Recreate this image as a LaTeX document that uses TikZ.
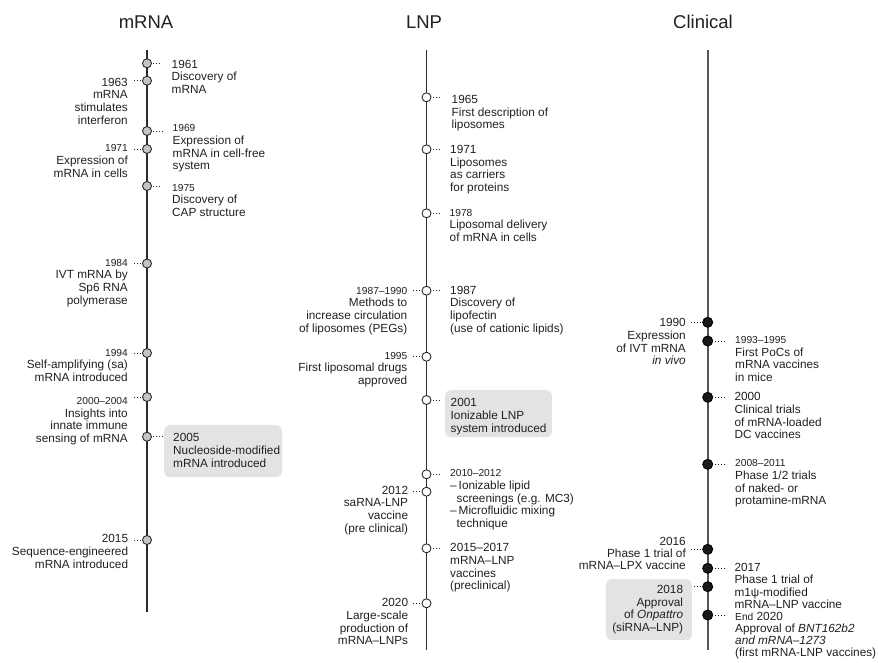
\documentclass[tikz,border=0pt]{standalone}
\usepackage{fontspec}
\setmainfont{Liberation Sans}
\usetikzlibrary{positioning, calc}
\definecolor{txtcol}{HTML}{231F20}
\definecolor{axiscol}{HTML}{2B2B2B}
\definecolor{clinaxis}{HTML}{555555}
\definecolor{mrnafill}{HTML}{C4C4C4}
\definecolor{boxfill}{HTML}{E3E3E3}
\newcommand{\smyr}[1]{{\fontsize{10.2}{12}\selectfont #1}}
% first line carries the baseline
\newcommand{\evlines}[1]{\begin{tabular}[t]{@{}l@{}}#1\end{tabular}}
\newcommand{\evlinesr}[1]{\begin{tabular}[t]{@{}r@{}}#1\end{tabular}}
\tikzset{
    every node/.style={font=\fontsize{11.8}{12.7}\selectfont, text=txtcol},
    tight/.style={font=\fontsize{11.8}{12.2}\selectfont},
    coltitle/.style={font=\fontsize{18.5}{20}\selectfont, anchor=base},
    axisline/.style={axiscol, line width=1.2pt},
    clinline/.style={clinaxis, line width=1.6pt},
    mrnadot/.style={
        circle, draw=axiscol, line width=0.9pt, fill=mrnafill,
        minimum size=9pt, inner sep=0pt,
    },
    lnpdot/.style={mrnadot, fill=white},
    clindot/.style={mrnadot, draw=black, fill=black!90, minimum size=10pt},
    evtR/.style={anchor=base west, inner sep=0pt},
    evtL/.style={anchor=base east, inner sep=0pt},
    hibox/.style={
        rectangle, rounded corners=5pt, fill=boxfill,
        anchor=north west, inner sep=0pt,
    },
    leadR/.style={
        txtcol, line width=0.9pt, dash pattern=on 0.9pt off 2.1pt,
        shorten <=1.5pt, shorten >=10pt,
    },
    leadL/.style={leadR, shorten >=5pt},
}

\begin{document}
\begin{tikzpicture}[x=1pt, y=-1pt]
\useasboundingbox (0,0) rectangle (878,662);

% ── Column titles ──────────────────────────────────────────────────
\node[coltitle] (tmrna) at (146,28) {mRNA};
\node[coltitle] (tlnp) at (424,28) {LNP};
\node[coltitle] (tclin) at (703,28) {Clinical};

% ── Axes ───────────────────────────────────────────────────────────
\coordinate (mtop) at (147,50);
\coordinate (mbot) at (147,612);
\coordinate (ltop) at (426.5,50);
\coordinate (lbot) at (426.5,650);
\coordinate (ctop) at (707.7,50);
\coordinate (cbot) at (707.7,650);
\draw[axisline] (mtop) -- (mbot);
\draw[axisline] (ltop) -- (lbot);
\draw[clinline] (ctop) -- (cbot);

% ── Highlight boxes ────────────────────────────────────────────────
\node[hibox, minimum width=117.7, minimum height=52] (b05) at (164,425) {};
\node[hibox, minimum width=106.7, minimum height=47] (b01) at (445,390) {};
\node[hibox, minimum width=85.7, minimum height=61] (b18) at (606,579) {};

% ── mRNA events ────────────────────────────────────────────────────
\node[mrnadot] (m61) at (147,63.3) {};
\node[mrnadot] (m63) at (147,80.7) {};
\node[mrnadot] (m69) at (147,131) {};
\node[mrnadot] (m71) at (147,149) {};
\node[mrnadot] (m75) at (147,186) {};
\node[mrnadot] (m84) at (147,263.5) {};
\node[mrnadot] (m94) at (147,353) {};
\node[mrnadot] (m00) at (147,397) {};
\node[mrnadot] (m05) at (147,436.7) {};
\node[mrnadot] (m15) at (147,540) {};

\node[evtR] (tm61) at (171.5,68) {\evlines{1961\\Discovery of\\mRNA}};
\node[evtL] (tm63) at (128,86) {\evlinesr{1963\\mRNA\\stimulates\\interferon}};
\node[evtR] (tm69) at (172.5,131.7) {\evlines{\smyr{1969}\\Expression of\\mRNA in cell-free\\system}};
\node[evtL] (tm71) at (128,151.7) {\evlinesr{\smyr{1971}\\Expression of\\mRNA in cells}};
\node[evtR] (tm75) at (172,191) {\evlines{\smyr{1975}\\Discovery of\\CAP structure}};
\node[evtL] (tm84) at (128,266) {\evlinesr{\smyr{1984}\\IVT mRNA by\\Sp6 RNA\\polymerase}};
\node[evtL] (tm94) at (128,356) {\evlinesr{\smyr{1994}\\Self-amplifying (sa)\\mRNA introduced}};
\node[evtL] (tm00) at (128,404.5) {\evlinesr{\smyr{2000--2004}\\Insights into\\innate immune\\sensing of mRNA}};
\node[evtR] (tm05) at (173,441.7) {\evlines{2005\\Nucleoside-modified\\mRNA introduced}};
\node[evtL] (tm15) at (128.3,542.7) {\evlinesr{2015\\Sequence-engineered\\mRNA introduced}};

\draw[leadR] (m61) -- (m61 -| tm61.west);
\draw[leadL] (m63) -- (m63 -| tm63.east);
\draw[leadR] (m69) -- (m69 -| tm69.west);
\draw[leadL] (m71) -- (m71 -| tm71.east);
\draw[leadR] (m75) -- (m75 -| tm75.west);
\draw[leadL] (m84) -- (m84 -| tm84.east);
\draw[leadL] (m94) -- (m94 -| tm94.east);
\draw[leadL] (m00) -- (m00 -| tm00.east);
\draw[leadR] (m05) -- (m05 -| tm05.west);
\draw[leadL] (m15) -- (m15 -| tm15.east);

% ── LNP events ─────────────────────────────────────────────────────
\node[lnpdot] (l65) at (426.5,97.3) {};
\node[lnpdot] (l71) at (426.5,149.3) {};
\node[lnpdot] (l78) at (426.5,213.3) {};
\node[lnpdot] (l87) at (426.5,290.7) {};
\node[lnpdot] (l95) at (426.5,356.7) {};
\node[lnpdot] (l01) at (426.5,400) {};
\node[lnpdot] (l10) at (426.5,474.3) {};
\node[lnpdot] (l12) at (426.5,491.7) {};
\node[lnpdot] (l15) at (426.5,548.3) {};
\node[lnpdot] (l20) at (426.5,603.3) {};

\node[evtR] (tl65) at (451.5,103.3) {\evlines{1965\\First description of\\liposomes}};
\node[evtR] (tl71) at (450,153.3) {\evlines{1971\\Liposomes\\as carriers\\for proteins}};
\node[evtR] (tl78) at (449.5,216) {\evlines{\smyr{1978}\\Liposomal delivery\\of mRNA in cells}};
\node[evtR] (tl87) at (450,294) {\evlines{1987\\Discovery of\\lipofectin\\(use of cationic lipids)}};
\node[evtL] (tl87b) at (407.5,294) {\evlinesr{\smyr{1987--1990}\\Methods to\\increase circulation\\of liposomes (PEGs)}};
\node[evtL] (tl95) at (407.5,359) {\evlinesr{\smyr{1995}\\First liposomal drugs\\approved}};
\node[evtR] (tl01) at (450.5,406.7) {\evlines{2001\\Ionizable LNP\\system introduced}};
\node[evtR] (tl10) at (450,476.7) {\evlines{\smyr{2010--2012}\\--\,Ionizable lipid\\\hspace*{6.5pt}screenings (e.g. MC3)\\--\,Microfluidic mixing\\\hspace*{6.5pt}technique}};
\node[evtL] (tl12) at (408.3,494) {\evlinesr{2012\\saRNA-LNP\\vaccine\\(pre clinical)}};
\node[evtR] (tl15) at (450,551.7) {\evlines{2015--2017\\mRNA--LNP\\vaccines\\(preclinical)}};
\node[evtL] (tl20) at (408.3,606.7) {\evlinesr{2020\\Large-scale\\production of\\mRNA--LNPs}};

\draw[leadR] (l65) -- (l65 -| tl65.west);
\draw[leadR] (l71) -- (l71 -| tl71.west);
\draw[leadR] (l78) -- (l78 -| tl78.west);
\draw[leadR] (l87) -- (l87 -| tl87.west);
\draw[leadL] (l87) -- (l87 -| tl87b.east);
\draw[leadL] (l95) -- (l95 -| tl95.east);
\draw[leadR] (l01) -- (l01 -| tl01.west);
\draw[leadR] (l10) -- (l10 -| tl10.west);
\draw[leadL] (l12) -- (l12 -| tl12.east);
\draw[leadR] (l15) -- (l15 -| tl15.west);
\draw[leadL] (l20) -- (l20 -| tl20.east);

% ── Clinical events ────────────────────────────────────────────────
\node[clindot] (c90) at (707.7,322.3) {};
\node[clindot] (c93) at (707.7,341) {};
\node[clindot] (c00) at (707.7,397.3) {};
\node[clindot] (c08) at (707.7,464.3) {};
\node[clindot] (c16) at (707.7,549.3) {};
\node[clindot] (c17) at (707.7,568.3) {};
\node[clindot] (c18) at (707.7,586.7) {};
\node[clindot] (c20) at (707.7,615) {};

\node[evtL] (tc90) at (686,326.7) {\evlinesr{1990\\Expression\\of IVT mRNA\\\textit{in vivo}}};
\node[evtR] (tc93) at (735,343.3) {\evlines{\smyr{1993--1995}\\First PoCs of\\mRNA vaccines\\in mice}};
\node[evtR] (tc00) at (734.3,400.7) {\evlines{2000\\Clinical trials\\of mRNA-loaded\\DC vaccines}};
\node[evtR] (tc08) at (735,466.7) {\evlines{\smyr{2008--2011}\\Phase 1/2 trials\\of naked- or\\protamine-mRNA}};
\node[evtL, tight] (tc16) at (686,545) {\evlinesr{2016\\Phase 1 trial of\\mRNA--LPX vaccine}};
\node[evtR, tight] (tc17) at (734.3,571.7) {\evlines{2017\\Phase 1 trial of\\m1ψ-modified\\mRNA--LNP vaccine}};
\node[evtL] (tc18) at (683.3,593.3) {\evlinesr{2018\\Approval\\of \textit{Onpattro}\\(siRNA--LNP)}};
\node[evtR, tight] (tc20) at (735,620) {\evlines{\smyr{End} 2020\\Approval of \textit{BNT162b2}\\\textit{and mRNA--1273}\\(first mRNA-LNP vaccines)}};

\draw[leadL] (c90) -- (c90 -| tc90.east);
\draw[leadR] (c93) -- (c93 -| tc93.west);
\draw[leadR] (c00) -- (c00 -| tc00.west);
\draw[leadR] (c08) -- (c08 -| tc08.west);
\draw[leadL] (c16) -- (c16 -| tc16.east);
\draw[leadR] (c17) -- (c17 -| tc17.west);
\draw[leadL, shorten >=1pt] (c18) -- (c18 -| b18.east);
\draw[leadR] (c20) -- (c20 -| tc20.west);

\end{tikzpicture}
\end{document}
